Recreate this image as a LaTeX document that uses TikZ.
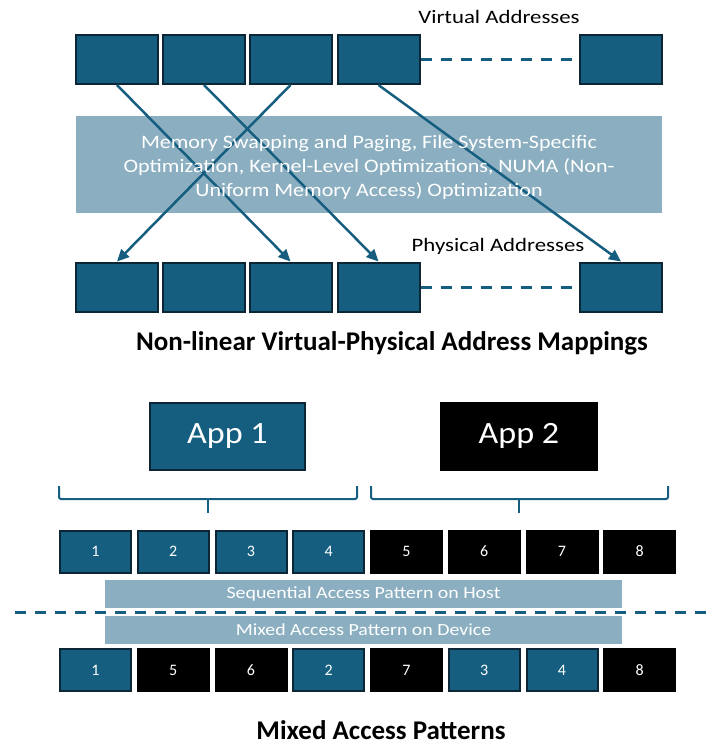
\documentclass[tikz,border=0pt]{standalone}
\usepackage{fontspec}
\setmainfont{Carlito}
\usetikzlibrary{arrows.meta}
\definecolor{mblue}{RGB}{22,94,128}
\definecolor{mnavy}{RGB}{12,38,54}
\definecolor{mband}{RGB}{139,175,193}
\newcommand{\hstretch}[2]{\scalebox{#1}[1]{#2}}
\tikzset{
  addr/.style={draw=mnavy, line width=2pt, fill=mblue, minimum width=82pt, minimum height=49pt, inner sep=0pt},
  cellb/.style={draw=mnavy, line width=2pt, fill=mblue, minimum width=71pt, minimum height=42pt, inner sep=0pt, text=white, font=\fontsize{16}{18}\selectfont},
  cellk/.style={draw=black, line width=2pt, fill=black, minimum width=71pt, minimum height=42pt, inner sep=0pt, text=white, font=\fontsize{16}{18}\selectfont},
  conn/.style={draw=mblue, line width=2.5pt, -{Triangle[length=12pt,width=11pt]}},
  dashline/.style={draw=mblue, line width=3pt, dash pattern=on 11pt off 9pt},
  bracketline/.style={draw=mblue, line width=2pt, rounded corners=2pt},
  bar/.style={fill=mband, inner sep=0pt, text=white, font=\fontsize{17}{20}\selectfont},
  lbl/.style={text=black, font=\fontsize{19}{22}\selectfont, inner sep=0pt, anchor=base},
  ttl/.style={text=black, font=\bfseries\fontsize{27}{32}\selectfont, inner sep=0pt, anchor=base},
}
\begin{document}
\begin{tikzpicture}[x=1pt,y=-1pt]
\useasboundingbox (0,0) rectangle (709,747);
% ---------- top part ----------
\node[lbl] (va) at (499,23) {\hstretch{1.2}{Virtual Addresses}};
\node[addr] (t1) at (117,59.5) {};
\node[addr] (t2) at (204,59.5) {};
\node[addr] (t3) at (290.5,59.5) {};
\node[addr] (t4) at (378.5,59.5) {};
\node[addr] (t5) at (621,59.5) {};
\draw[dashline] (t4.east) -- (t5.west);
\node[fill=mband, minimum width=586pt, minimum height=97pt, inner sep=0pt] (band) at (369,164.5) {};
\node[lbl] (pa) at (498,251) {\hstretch{1.2}{Physical Addresses}};
\node[addr] (b1) at (117,287) {};
\node[addr] (b2) at (204,287) {};
\node[addr] (b3) at (290.5,287) {};
\node[addr] (b4) at (378.5,287) {};
\node[addr] (b5) at (621,287) {};
\draw[dashline] (b4.east) -- (b5.west);
\draw[conn] (t1.south) -- (b3.north);
\draw[conn] (t2.south) -- (b4.north);
\draw[conn] (t3.south) -- (b1.north);
\draw[conn] (t4.south) -- (b5.north);
\node[text=white, font=\fontsize{19}{24}\selectfont, inner sep=0pt] (bandtext) at (369,168)
  {\hstretch{1.16}{\begin{tabular}{@{}c@{}}Memory Swapping and Paging, File System-Specific\\Optimization, Kernel-Level Optimizations, NUMA (Non-\\Uniform Memory Access) Optimization\end{tabular}}};
\node[ttl] (title1) at (392,350) {Non-linear Virtual-Physical Address Mappings};
% ---------- bottom part ----------
\node[draw=mnavy, line width=2pt, fill=mblue, minimum width=155pt, minimum height=67pt, inner sep=0pt, text=white, font=\fontsize{31}{34}\selectfont] (app1) at (227.5,436) {\hstretch{1.1}{App 1}};
\node[fill=black, minimum width=158pt, minimum height=69pt, inner sep=0pt, text=white, font=\fontsize{31}{34}\selectfont] (app2) at (519,436) {\hstretch{1.1}{App 2}};
\coordinate (l1) at (59,486); \coordinate (l2) at (59,499); \coordinate (l3) at (357,499); \coordinate (l4) at (357,486);
\coordinate (lm) at (208,499); \coordinate (lt) at (208,513);
\draw[bracketline] (l1) -- (l2) -- (l3) -- (l4);
\draw[draw=mblue, line width=2pt] (lm) -- (lt);
\coordinate (r1) at (371,486); \coordinate (r2) at (371,499); \coordinate (r3) at (668,499); \coordinate (r4) at (668,486);
\coordinate (rm) at (519,499); \coordinate (rt) at (519,513);
\draw[bracketline] (r1) -- (r2) -- (r3) -- (r4);
\draw[draw=mblue, line width=2pt] (rm) -- (rt);
% host row
\node[cellb] (h1) at (95.5,551.5) {1};
\node[cellb] (h2) at (173.25,551.5) {2};
\node[cellb] (h3) at (251,551.5) {3};
\node[cellb] (h4) at (328.75,551.5) {4};
\node[cellk] (h5) at (406.5,551.5) {5};
\node[cellk] (h6) at (484.25,551.5) {6};
\node[cellk] (h7) at (562,551.5) {7};
\node[cellk] (h8) at (639.75,551.5) {8};
\node[bar, minimum width=517pt, minimum height=28pt] (seq) at (363.5,594) {\hstretch{1.17}{Sequential Access Pattern on Host}};
\coordinate (dl) at (15,612); \coordinate (dr) at (709,612);
\draw[dashline] (dl) -- (dr);
\node[bar, minimum width=517pt, minimum height=28pt] (mix) at (363.5,630) {\hstretch{1.17}{Mixed Access Pattern on Device}};
% device row
\node[cellb] (d1) at (95.5,670) {1};
\node[cellk] (d2) at (173.25,670) {5};
\node[cellk] (d3) at (251,670) {6};
\node[cellb] (d4) at (328.75,670) {2};
\node[cellk] (d5) at (406.5,670) {7};
\node[cellb] (d6) at (484.25,670) {3};
\node[cellb] (d7) at (562,670) {4};
\node[cellk] (d8) at (639.75,670) {8};
\node[ttl] (title2) at (381,739) {Mixed Access Patterns};
\end{tikzpicture}
\end{document}
